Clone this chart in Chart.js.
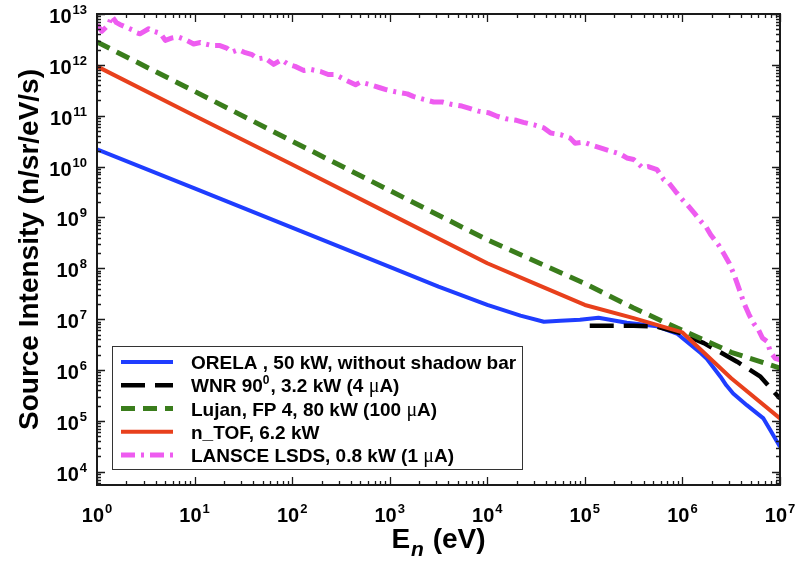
<!DOCTYPE html>
<html>
<head>
<meta charset="utf-8">
<script src="https://cdn.jsdelivr.net/npm/chart.js@4.4.1/dist/chart.umd.min.js"></script>
<style>
  html, body { margin: 0; padding: 0; background: #fff; }
  #wrap { width: 798px; height: 563px; }
</style>
</head>
<body>
<div id="wrap"><canvas id="spectra" width="798" height="563"></canvas></div>
<script>
// Curves are digitised as log10(E / eV) and log10(n/sr/eV/s)
const orelaLogE = [0, 1, 2, 3, 3.5, 4, 4.34, 4.58, 4.75, 4.95, 5.14, 5.43, 5.74, 5.95, 6.19, 6.25, 6.39, 6.45, 6.52, 6.66, 6.83, 6.9, 7];
const orelaLogI = [10.34, 9.57, 8.80, 8.03, 7.64, 7.28, 7.07, 6.95, 6.97, 6.99, 7.03, 6.93, 6.86, 6.71, 6.33, 6.22, 5.87, 5.70, 5.54, 5.31, 5.05, 4.82, 4.49];

const wnrLogE = [5.05, 5.3, 5.5, 5.74, 5.98, 6.22, 6.56, 6.8, 7];
const wnrLogI = [6.87, 6.87, 6.87, 6.855, 6.725, 6.53, 6.165, 5.87, 5.44];

const lujanLogE = [0, 1, 2, 3, 4, 5, 5.5, 6, 6.5, 7];
const lujanLogI = [12.45, 11.48, 10.5, 9.53, 8.56, 7.70, 7.22, 6.78, 6.35, 6.04];

const ntofLogE = [0, 1, 2, 3, 4, 4.5, 5, 5.5, 6, 6.5, 7];
const ntofLogI = [11.97, 11.0, 10.04, 9.07, 8.10, 7.69, 7.28, 7.02, 6.74, 5.84, 5.05];

const lansceLogE = [0, 0.05, 0.12, 0.15, 0.2, 0.24, 0.31, 0.36, 0.41, 0.44, 0.53, 0.58, 0.65, 0.70, 0.77, 0.83, 0.90, 0.99,
  1.06, 1.11, 1.18, 1.26, 1.33, 1.38, 1.45, 1.52, 1.59, 1.65, 1.72, 1.81, 1.89, 1.96, 2.03, 2.12, 2.19, 2.29, 2.37, 2.44,
  2.54, 2.65, 2.70, 2.80, 2.90, 2.97, 3.06, 3.18, 3.24, 3.35, 3.45, 3.54, 3.64, 3.74, 3.81, 3.91, 4.01, 4.10, 4.19, 4.30,
  4.37, 4.48, 4.58, 4.65, 4.75, 4.85, 4.90, 4.99, 5.06, 5.16, 5.24, 5.36, 5.43, 5.50, 5.59, 5.65, 5.74, 5.81, 5.86, 5.93,
  6.00, 6.05, 6.12, 6.19, 6.24, 6.29, 6.37, 6.42, 6.48, 6.53, 6.58, 6.63, 6.68, 6.73, 6.78, 6.82, 6.87, 6.90, 6.95, 7.0];
const lansceLogI = [12.79, 12.66, 12.79, 12.96, 12.83, 12.79, 12.73, 12.69, 12.63, 12.61, 12.71, 12.66, 12.62, 12.48, 12.53, 12.55, 12.50, 12.41,
  12.44, 12.41, 12.38, 12.38, 12.33, 12.25, 12.30, 12.24, 12.20, 12.12, 12.14, 12.01, 12.10, 12.01, 11.97, 11.89, 11.91, 11.87, 11.81, 11.81,
  11.71, 11.61, 11.66, 11.61, 11.55, 11.51, 11.47, 11.43, 11.38, 11.32, 11.27, 11.27, 11.22, 11.19, 11.15, 11.09, 11.06, 10.99, 10.94, 10.91,
  10.87, 10.82, 10.76, 10.66, 10.63, 10.56, 10.46, 10.48, 10.43, 10.37, 10.32, 10.25, 10.17, 10.14, 9.98, 10.0, 9.94, 9.74, 9.68, 9.51,
  9.35, 9.25, 9.09, 8.92, 8.82, 8.66, 8.46, 8.30, 8.10, 7.87, 7.60, 7.32, 7.10, 6.92, 6.79, 6.63, 6.56, 6.36, 6.23, 6.20];

const seriesLabels = [
  'ORELA , 50 kW, without shadow bar',
  'WNR 90^0, 3.2 kW (4 μA)',
  'Lujan, FP 4, 80 kW (100 μA)',
  'n_TOF, 6.2 kW',
  'LANSCE LSDS, 0.8 kW (1 μA)'
];

// decade exponents shown as tick labels
const xDecades = [0, 1, 2, 3, 4, 5, 6, 7];
const yDecades = [4, 5, 6, 7, 8, 9, 10, 11, 12, 13];

const FONT = '"Liberation Sans", Arial, Helvetica, sans-serif';

function toPoints(logE, logI) {
  return logE.map((e, i) => ({ x: Math.pow(10, e), y: Math.pow(10, logI[i]) }));
}

// "10" with a raised exponent
function drawPower(ctx, exp, x, baseline, align, size) {
  const supSize = Math.round(size * 0.66);
  ctx.font = 'bold ' + size + 'px ' + FONT;
  const wb = ctx.measureText('10').width;
  ctx.font = 'bold ' + supSize + 'px ' + FONT;
  const we = ctx.measureText(exp).width;
  const total = wb + we + 1;
  const x0 = align === 'center' ? x - total / 2 : x - total;
  ctx.textAlign = 'left';
  ctx.textBaseline = 'alphabetic';
  ctx.font = 'bold ' + size + 'px ' + FONT;
  ctx.fillText('10', x0, baseline);
  ctx.font = 'bold ' + supSize + 'px ' + FONT;
  ctx.fillText(exp, x0 + wb + 1, baseline - size * 0.45);
}

// legend text: "^n" is a superscript, μ is set in a symbol-like face
function drawRichText(ctx, text, x, baseline) {
  const parts = text.split(/(\^\d+|μ)/).filter(p => p.length);
  parts.forEach(p => {
    if (p[0] === '^') {
      ctx.font = 'bold 12px ' + FONT;
      ctx.fillText(p.slice(1), x, baseline - 8);
      x += ctx.measureText(p.slice(1)).width + 1;
    } else if (p === 'μ') {
      ctx.font = '20px "Liberation Serif", serif';
      ctx.fillText(p, x, baseline);
      x += ctx.measureText(p).width;
    } else {
      ctx.font = 'bold 19px ' + FONT;
      ctx.fillText(p, x, baseline);
      x += ctx.measureText(p).width;
    }
  });
}

const decorPlugin = {
  id: 'decor',
  afterDatasetsDraw(chart) {
    const { ctx, chartArea: a, scales: { x, y } } = chart;
    ctx.save();

    // inward ticks on all four sides
    ctx.strokeStyle = '#1a1a1a';
    ctx.lineWidth = 1.3;
    ctx.beginPath();
    for (let d = 0; d <= 7; d++) {
      for (let m = 1; m <= 9; m++) {
        const v = m * Math.pow(10, d);
        if (v > 1e7) break;
        const px = Math.round(x.getPixelForValue(v)) + 0.5;
        const len = m === 1 ? 8 : 4;
        ctx.moveTo(px, a.bottom); ctx.lineTo(px, a.bottom - len);
        ctx.moveTo(px, a.top); ctx.lineTo(px, a.top + len);
      }
    }
    for (let d = 3; d <= 13; d++) {
      for (let m = 1; m <= 9; m++) {
        const v = m * Math.pow(10, d);
        if (v > 1e13) break;
        if (v < y.min) continue;
        const py = Math.round(y.getPixelForValue(v)) + 0.5;
        const len = m === 1 ? 8 : 4;
        ctx.moveTo(a.left, py); ctx.lineTo(a.left + len, py);
        ctx.moveTo(a.right, py); ctx.lineTo(a.right - len, py);
      }
    }
    ctx.stroke();

    // plot frame
    ctx.lineWidth = 2;
    ctx.strokeRect(a.left, a.top, a.right - a.left, a.bottom - a.top);

    // tick labels
    ctx.fillStyle = '#000';
    xDecades.forEach(d => drawPower(ctx, String(d), x.getPixelForValue(Math.pow(10, d)), 522, 'center', 20));
    yDecades.forEach(d => drawPower(ctx, String(d), 87, y.getPixelForValue(Math.pow(10, d)) + 9, 'right', 20));

    // axis titles
    ctx.textBaseline = 'alphabetic';
    ctx.save();
    ctx.translate(38, (a.top + a.bottom) / 2);
    ctx.rotate(-Math.PI / 2);
    ctx.textAlign = 'center';
    ctx.font = 'bold 28px ' + FONT;
    ctx.fillText('Source Intensity (n/sr/eV/s)', 0, 0);
    ctx.restore();

    ctx.textAlign = 'left';
    ctx.font = 'bold 28px ' + FONT;
    const wE = ctx.measureText('E').width;
    const wRest = ctx.measureText(' (eV)').width;
    ctx.font = 'italic bold 21px ' + FONT;
    const wN = ctx.measureText('n').width;
    let tx = (a.left + a.right) / 2 - (wE + wN + 2 + wRest) / 2;
    ctx.font = 'bold 28px ' + FONT;
    ctx.fillText('E', tx, 548);
    ctx.font = 'italic bold 21px ' + FONT;
    ctx.fillText('n', tx + wE + 1, 556);
    ctx.font = 'bold 28px ' + FONT;
    ctx.fillText(' (eV)', tx + wE + wN + 2, 548);

    // legend
    const box = { left: 112.5, top: 346.5, width: 410, height: 123 };
    ctx.fillStyle = '#fff';
    ctx.fillRect(box.left, box.top, box.width, box.height);
    ctx.strokeStyle = '#333';
    ctx.lineWidth = 1;
    ctx.strokeRect(box.left, box.top, box.width, box.height);
    chart.data.datasets.forEach((ds, i) => {
      const cy = 362 + i * 23.25;
      ctx.strokeStyle = ds.borderColor;
      ctx.lineWidth = ds.borderWidth;
      ctx.setLineDash(ds.borderDash || []);
      ctx.beginPath();
      ctx.moveTo(121, cy);
      ctx.lineTo(173, cy);
      ctx.stroke();
      ctx.setLineDash([]);
      ctx.fillStyle = '#000';
      drawRichText(ctx, seriesLabels[i], 191, cy + 7);
    });

    ctx.restore();
  }
};

const colors = ['#1f3dff', '#000000', '#3a7d1c', '#e8401c', '#ee5cf0'];
const dashes = [[], [24, 10], [14, 8], [], [14, 6, 3, 6]];
const widths = [4, 4.5, 5, 4, 5];
const curves = [
  toPoints(orelaLogE, orelaLogI),
  toPoints(wnrLogE, wnrLogI),
  toPoints(lujanLogE, lujanLogI),
  toPoints(ntofLogE, ntofLogI),
  toPoints(lansceLogE, lansceLogI)
];

new Chart(document.getElementById('spectra'), {
  type: 'line',
  data: {
    datasets: curves.map((pts, i) => ({
      label: seriesLabels[i],
      data: pts,
      borderColor: colors[i],
      borderWidth: widths[i],
      borderDash: dashes[i],
      borderJoinStyle: 'round',
      pointRadius: 0,
      tension: 0,
      fill: false,
      order: curves.length - 1 - i
    }))
  },
  options: {
    responsive: false,
    animation: false,
    events: [],
    layout: { padding: { left: 97, top: 14, right: 18, bottom: 78 } },
    scales: {
      x: { type: 'logarithmic', min: 1, max: 1e7, display: false },
      y: { type: 'logarithmic', min: 5.5e3, max: 1e13, display: false }
    },
    plugins: {
      legend: { display: false },
      tooltip: { enabled: false }
    }
  },
  plugins: [decorPlugin]
});
</script>
</body>
</html>
